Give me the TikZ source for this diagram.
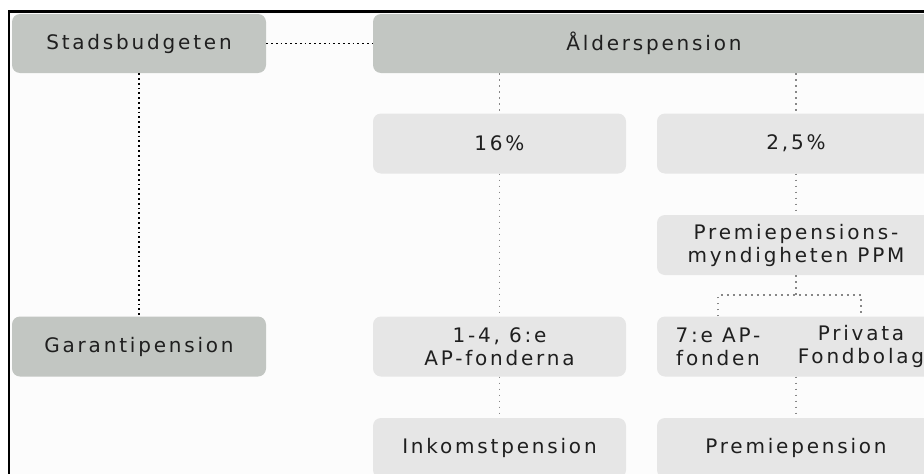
\documentclass[tikz,border=0pt]{standalone}
\usepackage{fontspec}
\newfontfamily\boxfont{DejaVu Sans}[LetterSpace=14]
\definecolor{darkbox}{RGB}{194,198,194}
\definecolor{lightbox}{RGB}{230,230,230}
\definecolor{dotgrey}{RGB}{135,135,135}
\definecolor{canvas}{RGB}{252,252,252}

\begin{document}
\begin{tikzpicture}[x=1pt, y=-1pt,
    box/.style={rectangle, rounded corners=8pt, minimum height=60pt, inner sep=0pt,
      align=center, text=black!88, font=\boxfont\fontsize{20}{23}\selectfont},
    mainbox/.style={box, fill=darkbox},
    subbox/.style={box, fill=lightbox},
    label/.style={align=center, inner sep=0pt, text=black!88, font=\boxfont\fontsize{20}{23}\selectfont},
    blackdots/.style={line width=1.8pt, dash pattern=on 1.8pt off 3pt},
    greydots/.style={dotgrey, line width=1.7pt, dash pattern=on 1.7pt off 4.3pt}]

    % Page and frame
    \useasboundingbox (0,0) rectangle (924,474);
    \clip (0,0) rectangle (924,474);
    \fill[white] (0,0) rectangle (924,474);
    \fill[canvas] (9,12) rectangle (924,474);
    \draw[line width=2.2pt] (9,474) -- (9,11.5) -- (924,11.5);

    % Top row
    \node[mainbox, minimum width=254pt, minimum height=59pt] (stad) at (139,43.5) {Stadsbudgeten};
    \node[mainbox, minimum width=562pt, minimum height=59pt] (alder) at (654,43.5) {Ålderspension};

    % Shares
    \node[subbox, minimum width=253pt] (p16) at (499.5,143.5) {16\%};
    \node[subbox, minimum width=278pt] (p25) at (796,143.5) {2,5\%};
    \node[subbox, minimum width=278pt] (ppm) at (796,245) {Premiepensions-\\myndigheten PPM};

    % Funds
    \node[mainbox, minimum width=254pt] (garanti) at (139,346.5) {Garantipension};
    \node[subbox, minimum width=253pt] (apfond) at (499.5,346.5) {1-4, 6:e\\AP-fonderna};
    \node[subbox, minimum width=278pt] (fond) at (796,346.5) {};
    \node[label] (sjunde) at (718,346.5) {7:e AP-\\fonden};
    \node[label] (privata) at (861,346.5) {Privata\\Fondbolag};

    % Pensions
    \node[subbox, minimum width=253pt] (inkomst) at (499.5,448) {Inkomstpension};
    \node[subbox, minimum width=278pt] (premie) at (796,448) {Premiepension};

    % State budget links
    \draw[blackdots] (stad.east) -- (alder.west);
    \draw[blackdots] (stad.south) -- (garanti.north);

    % Links below the old age pension
    \draw[greydots] (alder.south -| p16.north) -- (p16.north);
    \draw[greydots] (alder.south -| p25.north) -- (p25.north);
    \draw[greydots] (p16.south) -- (apfond.north);
    \draw[greydots] (apfond.south) -- (inkomst.north);
    \draw[greydots] (p25.south) -- (ppm.north);

    % Fork to the two fund managers
    \draw[greydots] (ppm.south) -- ++(0,20) coordinate (fork);
    \draw[greydots] (sjunde |- fond.north) -- (sjunde |- fork) -- (privata |- fork) -- (privata |- fond.north);
    \draw[greydots] (fond.south) -- (premie.north);

\end{tikzpicture}
\end{document}
